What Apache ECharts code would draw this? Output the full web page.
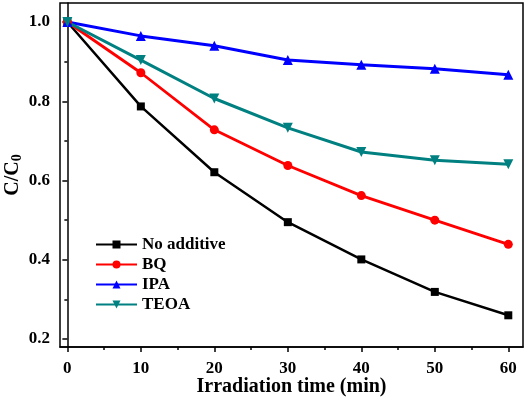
<!DOCTYPE html>
<html>
<head>
<meta charset="utf-8">
<script src="https://cdn.jsdelivr.net/npm/echarts@6/dist/echarts.min.js"></script>
<style>
  html, body { margin: 0; padding: 0; background: #fff; }
  #chart { width: 526px; height: 399px; }
</style>
</head>
<body>
<div id="chart"></div>
<script>
// data
const times = [0, 10, 20, 30, 40, 50, 60];
const noAdditive = [1.0, 0.787, 0.621, 0.495, 0.401, 0.319, 0.260];
const bq = [1.0, 0.872, 0.728, 0.638, 0.562, 0.500, 0.439];
const ipa = [1.0, 0.965, 0.940, 0.904, 0.892, 0.882, 0.867];
const teoa = [1.0, 0.904, 0.807, 0.733, 0.672, 0.651, 0.641];

const xMajor = [0, 10, 20, 30, 40, 50, 60];
const xMinor = [5, 15, 25, 35, 45, 55];
const yMajor = [0.2, 0.4, 0.6, 0.8, 1.0];
const yMinor = [0.3, 0.5, 0.7, 0.9];

const FONT = '"Liberation Serif", "Times New Roman", serif';

const chart = echarts.init(document.getElementById('chart'), null, { renderer: 'canvas' });

function pairs(ys) {
  return times.map((t, i) => [t, ys[i]]);
}

function line(name, ys, color, symbol, size, width) {
  return {
    name: name,
    type: 'line',
    data: pairs(ys),
    symbol: symbol,
    symbolSize: size,
    lineStyle: { color: color, width: width },
    itemStyle: { color: color },
    animation: false
  };
}

const option = {
  backgroundColor: '#fff',
  animation: false,
  grid: {
    left: 60, right: 3, top: 3, bottom: 52,
    outerBoundsMode: 'none',
    show: true, borderColor: '#000', borderWidth: 1.5, backgroundColor: 'transparent'
  },
  legend: {
    left: 90, top: 231,
    orient: 'vertical',
    itemWidth: 41, itemHeight: 10, itemGap: 3,
    textStyle: { fontFamily: FONT, fontWeight: 'bold', fontSize: 17, lineHeight: 17, color: '#000' },
    data: ['No additive', 'BQ', 'IPA', 'TEOA']
  },
  xAxis: [
    {
      type: 'value', min: -1, max: 62,
      axisLine: { onZero: false, lineStyle: { color: '#000', width: 1.5 } },
      axisTick: { customValues: xMajor, length: 5, lineStyle: { color: '#000', width: 1.5 } },
      axisLabel: { customValues: xMajor, color: '#000', fontFamily: FONT, fontWeight: 'bold', fontSize: 17, margin: 13 },
      splitLine: { show: false },
      name: 'Irradiation time (min)', nameLocation: 'middle', nameGap: 30, nameMoveOverlap: false,
      nameTextStyle: { fontFamily: FONT, fontWeight: 'bold', fontSize: 20, color: '#000' }
    },
    {
      type: 'value', min: -1, max: 62, position: 'bottom',
      axisLine: { show: false },
      axisTick: { customValues: xMinor, length: 3, lineStyle: { color: '#000', width: 1.5 } },
      axisLabel: { show: false },
      splitLine: { show: false }
    }
  ],
  yAxis: [
    {
      type: 'value', min: 0.18, max: 1.048,
      axisLine: { show: true, lineStyle: { color: '#000', width: 1.5 } },
      axisTick: { show: true, customValues: yMajor, length: 5, lineStyle: { color: '#000', width: 1.5 } },
      axisLabel: {
        customValues: yMajor, color: '#000', fontFamily: FONT, fontWeight: 'bold', fontSize: 17, margin: 10,
        formatter: v => v.toFixed(1)
      },
      splitLine: { show: false },
      name: '{a|C/C}{s|0}', nameLocation: 'middle', nameGap: 36, nameRotate: 90, nameMoveOverlap: false,
      nameTextStyle: {
        rich: {
          a: { fontFamily: FONT, fontWeight: 'bold', fontSize: 20, color: '#000' },
          s: { fontFamily: FONT, fontWeight: 'bold', fontSize: 14, color: '#000', padding: [8, 0, 0, 0] }
        }
      }
    },
    {
      type: 'value', min: 0.18, max: 1.048, position: 'left',
      axisLine: { show: false },
      axisTick: { show: true, customValues: yMinor, length: 3, lineStyle: { color: '#000', width: 1.5 } },
      axisLabel: { show: false },
      splitLine: { show: false }
    }
  ],
  series: [
    line('No additive', noAdditive, '#000000', 'rect', 8, 2.5),
    line('BQ', bq, '#ff0000', 'circle', 9, 2.8),
    line('IPA', ipa, '#0000ff', 'triangle', 10, 3),
    Object.assign(line('TEOA', teoa, '#008080', 'triangle', 10, 3), { symbolRotate: 180 })
  ]
};

chart.setOption(option);
</script>
</body>
</html>
